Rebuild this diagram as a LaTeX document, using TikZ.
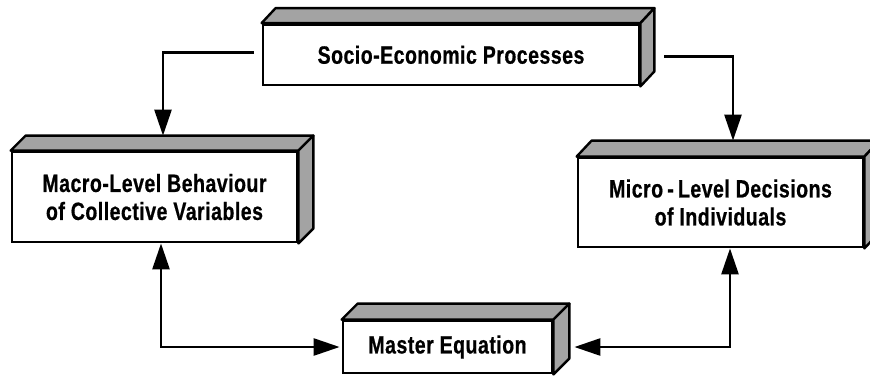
\documentclass[tikz,border=0pt]{standalone}
\usepackage{fontspec}
\newfontfamily\boxfont{Liberation Sans}[FakeStretch=0.78,LetterSpace=2,FakeBold=0.6]
\usetikzlibrary{arrows.meta,calc}
\newcommand\drawfaces[3]{%
  \draw[face] (#1.north west) -- ++(#2,#3) -- ($(#1.north east)+(#2,#3)$) -- (#1.north east) -- cycle;
  \draw[face] (#1.north east) -- ++(#2,#3) -- ($(#1.south east)+(#2,#3)$) -- (#1.south east) -- cycle;}
\begin{document}
\begin{tikzpicture}[x=1pt,y=-1pt,
  front/.style={draw,line width=2.8pt,fill=white,inner sep=0pt,align=center,
    font=\boxfont\bfseries\fontsize{25}{28}\selectfont},
  face/.style={draw,line width=2.4pt,fill=black!36,line join=round},
  conn/.style={line width=2.6pt},
  tip/.style={-{Triangle[length=26pt,width=17pt]}},
  tips/.style={{Triangle[length=26pt,width=17pt]}-{Triangle[length=26pt,width=17pt]}}
]
\useasboundingbox (0,0) rectangle (870,376);

\node[front,minimum width=376pt,minimum height=60.5pt] (soc) at (451,54.75) {Socio-Economic Processes};
\node[front,minimum width=285pt,minimum height=90pt] (macro) at (154.5,197) {Macro-Level Behaviour\\of Collective Variables};
\node[front,minimum width=285pt,minimum height=89pt] (micro) at (720.5,202.5) {Micro\,-\,Level Decisions\\of Individuals};
\node[front,minimum width=209pt,minimum height=52pt] (master) at (447.5,347) {Master Equation};

\drawfaces{soc}{14}{-15}
\drawfaces{macro}{15}{-15}
\drawfaces{micro}{15}{-16}
\drawfaces{master}{16}{-16}

\draw[conn,tip] ([xshift=-8pt,yshift=2pt]soc.west) -| ([xshift=8.5pt,yshift=15pt]macro.north);
\draw[conn,tip] ([xshift=24pt,yshift=-2pt]soc.east) -| ([xshift=12.5pt,yshift=16pt]micro.north);
\draw[conn,tips] ([xshift=6.5pt]macro.south) |- ([xshift=-2pt]master.west);
\draw[conn,tips] ([xshift=9.5pt]micro.south) |- ([xshift=21pt]master.east);
\end{tikzpicture}
\end{document}
